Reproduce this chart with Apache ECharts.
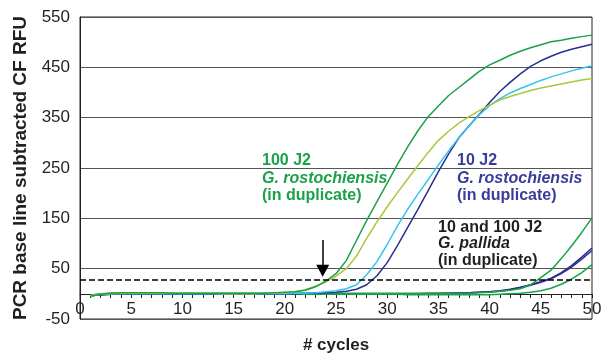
<!DOCTYPE html>
<html>
<head>
<meta charset="utf-8">
<script src="https://cdn.jsdelivr.net/npm/echarts@6/dist/echarts.min.js"></script>
<style>
  html, body { margin: 0; padding: 0; background: #fff; }
  #chart { width: 603px; height: 353px; }
</style>
</head>
<body>
<div id="chart"></div>
<script>
// cycle numbers (x)
const cycles = [1, 2, 3, 4, 5, 6, 7, 8, 9, 10, 11, 12, 13, 14, 15, 16, 17, 18, 19, 20,
  21, 22, 23, 24, 25, 26, 27, 28, 29, 30, 31, 32, 33, 34, 35, 36, 37, 38, 39, 40,
  41, 42, 43, 44, 45, 46, 47, 48, 49, 50];

// 100 J2 G. rostochiensis (duplicate)
const rost100a = [-5, -1, 1, 2, 2, 2, 2, 2, 1, 1, 1, 1, 1, 1, 1, 1, 1, 1, 2, 3,
  4, 7, 14, 25, 40, 66, 106, 146, 183, 220, 257, 292, 324, 352, 373, 394, 410, 426, 442, 455,
  464, 474, 482, 489, 495, 501, 504, 508, 511, 514];
const rost100b = [-4, -1, 0, 1, 1, 1, 1, 1, 1, 1, 1, 1, 1, 0, 0, 0, 0, 1, 1, 2,
  4, 8, 15, 24, 35, 50, 75, 110, 143, 173, 201, 228, 255, 281, 305, 323, 339, 352, 364, 375,
  385, 392, 398, 404, 409, 413, 417, 421, 425, 428];

// 10 J2 G. rostochiensis (duplicate)
const rost10a = [-4, -1, 0, 0, 0, 0, 0, 0, 0, 0, 0, 0, 0, 0, 0, 0, 0, 0, 0, 0,
  1, 1, 2, 4, 6, 10, 18, 38, 64, 98, 135, 168, 198, 227, 256, 284, 310, 334, 356, 374,
  388, 399, 408, 416, 424, 431, 437, 443, 448, 453];
const rost10b = [-4, -2, -1, -1, -1, -1, -1, -1, -1, -1, -1, -1, -1, -1, -1, -1, -1, -1, -1, -1,
  0, 1, 1, 2, 3, 5, 9, 18, 36, 62, 96, 132, 168, 205, 243, 278, 310, 334, 357, 380,
  402, 420, 437, 452, 463, 472, 480, 486, 491, 496];

// 10 and 100 J2 G. pallida (duplicate)
const pallGreenA = [-3, 0, 1, 2, 2, 2, 2, 1, 1, 1, 1, 1, 1, 1, 1, 1, 1, 1, 1, 1,
  1, 1, 1, 1, 1, 1, 1, 1, 1, 1, 1, 1, 1, 1, 1, 1, 1, 1, 2, 3,
  5, 7, 10, 18, 32, 47, 70, 95, 122, 151];
const pallGreenB = [-3, -2, -1, -1, -1, -1, -1, -1, -1, -1, -1, -1, -1, -1, -1, -1, -1, -1, -1, -1,
  -1, -1, -1, -1, -1, -1, -1, -1, -1, -1, -1, -2, -2, -2, -2, -2, -2, -2, -2, -2,
  -1, 0, 1, 3, 6, 11, 19, 29, 42, 58];
const pallNavyA = [-4, -1, 0, 0, 0, 0, 0, 0, 0, 0, 0, 0, 0, 0, 0, 0, 0, 0, 0, 0,
  0, 0, 0, 0, 0, 0, 0, 0, 0, 0, 0, 0, 0, 1, 1, 1, 2, 2, 3, 4,
  6, 9, 13, 18, 24, 31, 42, 56, 73, 91];
const pallNavyB = [-4, -2, -1, -1, -1, -1, -1, -1, -1, -1, -1, -1, -1, -1, -1, -1, -1, -1, -1, -1,
  -1, -1, -1, -1, -1, -1, -1, -1, -1, -1, -1, -1, -1, 0, 0, 1, 1, 2, 3, 4,
  5, 8, 12, 17, 23, 30, 40, 53, 69, 86];

const threshold = 28;
const arrowCycle = 23.7;
const arrowFrom = 107;
const arrowTo = 46;

const GREEN = '#1aa14a';
const YGREEN = '#a7c83c';
const CYAN = '#38c3ee';
const NAVY = '#2b2e91';
const INK = '#231f20';
const FONT = 'Arial, "Liberation Sans", sans-serif';

const pairs = vals => cycles.map((c, i) => [c, vals[i]]);

function curve(vals, color) {
  return {
    type: 'line',
    data: pairs(vals),
    showSymbol: false,
    silent: true,
    lineStyle: { color: color, width: 1.5 },
  };
}

const series = [
  curve(pallNavyA, NAVY),
  curve(pallNavyB, NAVY),
  curve(pallGreenB, GREEN),
  curve(pallGreenA, GREEN),
  curve(rost10b, NAVY),
  curve(rost10a, CYAN),
  curve(rost100b, YGREEN),
  curve(rost100a, GREEN),
];

// threshold line
series[0].markLine = {
  silent: true,
  symbol: 'none',
  label: { show: false },
  lineStyle: { color: '#000', type: [6, 3], width: 1.5 },
  data: [{ yAxis: threshold }],
};
// arrow pointing at the threshold crossing
series[1].markLine = {
  silent: true,
  symbol: ['none', 'triangle'],
  symbolSize: [13, 12],
  label: { show: false },
  lineStyle: { color: '#000', type: 'solid', width: 1.5 },
  data: [[{ coord: [arrowCycle, arrowFrom] }, { coord: [arrowCycle, arrowTo] }]],
};

function label(x, y, text, color, italic) {
  return {
    type: 'text',
    x: x,
    y: y,
    silent: true,
    style: {
      text: text,
      fill: color,
      font: (italic ? 'italic ' : '') + 'bold 16px ' + FONT,
      verticalAlign: 'middle',
    },
  };
}

const myChart = echarts.init(document.getElementById('chart'));
const option = {
  animation: false,
  backgroundColor: '#fff',
  grid: {
    left: 80,
    right: 11,
    top: 17,
    bottom: 34,
    containLabel: false,
    outerBoundsMode: 'none',
    show: true,
    borderColor: INK,
    borderWidth: 1,
  },
  xAxis: {
    type: 'value',
    min: 0,
    max: 50,
    interval: 5,
    // axis drawn at y = 0 (25 px above the -50 bottom edge)
    offset: -25,
    name: '# cycles',
    nameLocation: 'middle',
    nameGap: 43,
    nameTextStyle: { fontFamily: FONT, fontWeight: 'bold', fontSize: 17, color: INK },
    axisLine: { onZero: false, lineStyle: { color: INK, width: 1 } },
    axisTick: { show: true, length: 4, lineStyle: { color: INK } },
    minorTick: { show: true, splitNumber: 5, length: 4, lineStyle: { color: INK } },
    axisLabel: { fontFamily: FONT, fontSize: 17, color: INK, margin: 7 },
    splitLine: { show: false },
  },
  yAxis: {
    type: 'value',
    min: -50,
    max: 550,
    interval: 50,
    name: 'PCR base line subtracted CF RFU',
    nameLocation: 'middle',
    nameGap: 50,
    nameTextStyle: { fontFamily: FONT, fontWeight: 'bold', fontSize: 19, color: INK },
    axisLine: { show: true, lineStyle: { color: INK, width: 1 } },
    axisTick: { show: false },
    axisLabel: {
      fontFamily: FONT,
      fontSize: 17,
      color: INK,
      margin: 10,
      // labels only at -50, 50, 150, ...
      formatter: v => ((v + 50) % 100 === 0 ? String(v) : ''),
    },
    splitLine: { show: true, lineStyle: { color: ['#555', 'rgba(0,0,0,0)'], width: 1 } },
  },
  series: series,
  graphic: [
    label(262, 161, '100 J2', GREEN, false),
    label(262, 178.5, 'G. rostochiensis', GREEN, true),
    label(262, 196, '(in duplicate)', GREEN, false),
    label(457, 161, '10 J2', '#3a3d98', false),
    label(457, 178.5, 'G. rostochiensis', '#3a3d98', true),
    label(457, 196, '(in duplicate)', '#3a3d98', false),
    label(438, 227.5, '10 and 100 J2', INK, false),
    label(438, 244, 'G. pallida', INK, true),
    label(438, 260.5, '(in duplicate)', INK, false),
  ],
};
myChart.setOption(option);

window.addEventListener('resize', () => {
  myChart.resize();
});
</script>
</body>
</html>
